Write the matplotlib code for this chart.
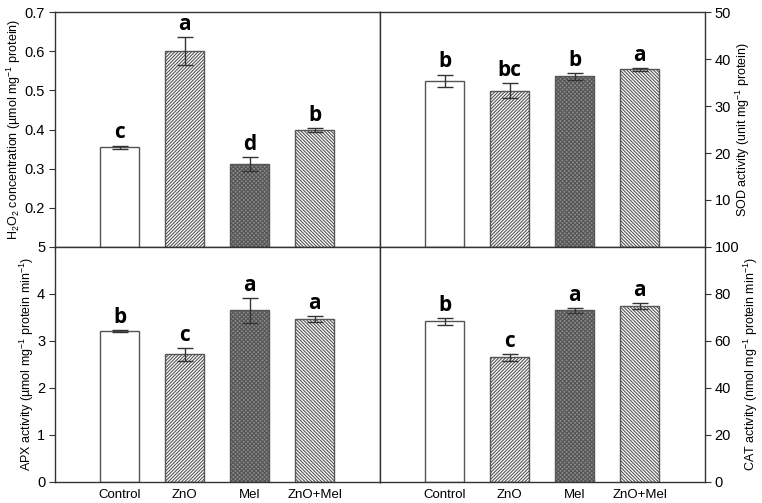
import numpy as np
import matplotlib
matplotlib.use("Agg")
import matplotlib.pyplot as plt

plt.rcParams["font.family"] = ["Liberation Sans", "DejaVu Sans"]
plt.rcParams["mathtext.fontset"] = "custom"
plt.rcParams["mathtext.rm"] = "Liberation Sans"
plt.rcParams["mathtext.it"] = "Liberation Sans:italic"
plt.rcParams["mathtext.default"] = "regular"
plt.rcParams["hatch.linewidth"] = 0.8
plt.rcParams["hatch.color"] = "#3a3a3a"

# --- data
treatments = ["Control", "ZnO", "Mel", "ZnO+Mel"]

h2o2 = [0.355, 0.601, 0.312, 0.398]
h2o2_err = [0.004, 0.035, 0.018, 0.005]
h2o2_letters = ["c", "a", "d", "b"]

sod = [35.4, 33.3, 36.3, 37.8]
sod_err = [1.25, 1.5, 0.7, 0.3]
sod_letters = ["b", "bc", "b", "a"]

apx = [3.21, 2.72, 3.65, 3.47]
apx_err = [0.02, 0.14, 0.26, 0.07]
apx_letters = ["b", "c", "a", "a"]

cat = [68.3, 53.0, 73.0, 74.9]
cat_err = [1.6, 1.6, 1.0, 1.2]
cat_letters = ["b", "c", "a", "a"]

fills = ["white", "white", "#8a8a8a", "white"]
hatches = [None, "//////////", "xxxxxxxx", "\\\\\\\\\\\\\\\\\\\\"]
edge = "#555555"

fig = plt.figure(figsize=(7.62, 5.03), dpi=100)
L, R, B, M, T = 0.072, 0.925, 0.042, 0.509, 0.976
W = (R - L) / 2
ax_h2o2 = fig.add_axes([L, M, W, T - M])
ax_sod = fig.add_axes([L + W, M, W, T - M])
ax_apx = fig.add_axes([L, B, W, M - B])
ax_cat = fig.add_axes([L + W, B, W, M - B])


def draw_panel(ax, vals, errs, letters, ylim, yticks, ylabel, right=False, bottom=False, pad=0.0):
    x = np.arange(len(vals))
    for i in range(len(vals)):
        ax.bar(x[i], vals[i], width=0.6, color=fills[i], edgecolor=edge,
               hatch=hatches[i], linewidth=1.0, zorder=2)
    ax.errorbar(x, vals, yerr=errs, fmt="none", ecolor="#333333", elinewidth=1.0,
                capsize=6, capthick=1.0, zorder=3)
    for i in range(len(vals)):
        ax.text(x[i], vals[i] + errs[i] + pad, letters[i], ha="center", va="bottom",
                fontsize=15, fontweight="bold", family=["Open Sans", "DejaVu Sans"])
    ax.set_xlim(-1, 4)
    ax.set_ylim(*ylim)
    ax.set_yticks(yticks)
    ax.tick_params(axis="y", labelsize=10.5, length=4, width=0.8, color="#333333", pad=3)
    if right:
        ax.yaxis.tick_right()
        ax.yaxis.set_label_position("right")
        ax.set_ylabel(ylabel, fontsize=9, rotation=90, labelpad=2)
    else:
        ax.set_ylabel(ylabel, fontsize=9, labelpad=1)
    if bottom:
        ax.set_xticks(x)
        ax.set_xticklabels(treatments, fontsize=9.5)
        ax.tick_params(axis="x", length=0, pad=5)
    else:
        ax.set_xticks([])
    for s in ax.spines.values():
        s.set_color("#333333")
        s.set_linewidth(1.0)


draw_panel(ax_h2o2, h2o2, h2o2_err, h2o2_letters, (0.1, 0.7),
           [0.2, 0.3, 0.4, 0.5, 0.6, 0.7],
           "H$_2$O$_2$ concentration (µmol mg$^{-1}$ protein)", pad=0.006)
draw_panel(ax_sod, sod, sod_err, sod_letters, (0, 50), [10, 20, 30, 40, 50],
           "SOD activity (unit mg$^{-1}$ protein)", right=True, pad=0.5)
draw_panel(ax_apx, apx, apx_err, apx_letters, (0, 5), [0, 1, 2, 3, 4, 5],
           "APX activity (µmol mg$^{-1}$ protein min$^{-1}$)", bottom=True, pad=0.04)
draw_panel(ax_cat, cat, cat_err, cat_letters, (0, 100), [0, 20, 40, 60, 80, 100],
           "CAT activity (nmol mg$^{-1}$ protein min$^{-1}$)", right=True, bottom=True, pad=0.8)

fig.savefig("out.png", dpi=100)
